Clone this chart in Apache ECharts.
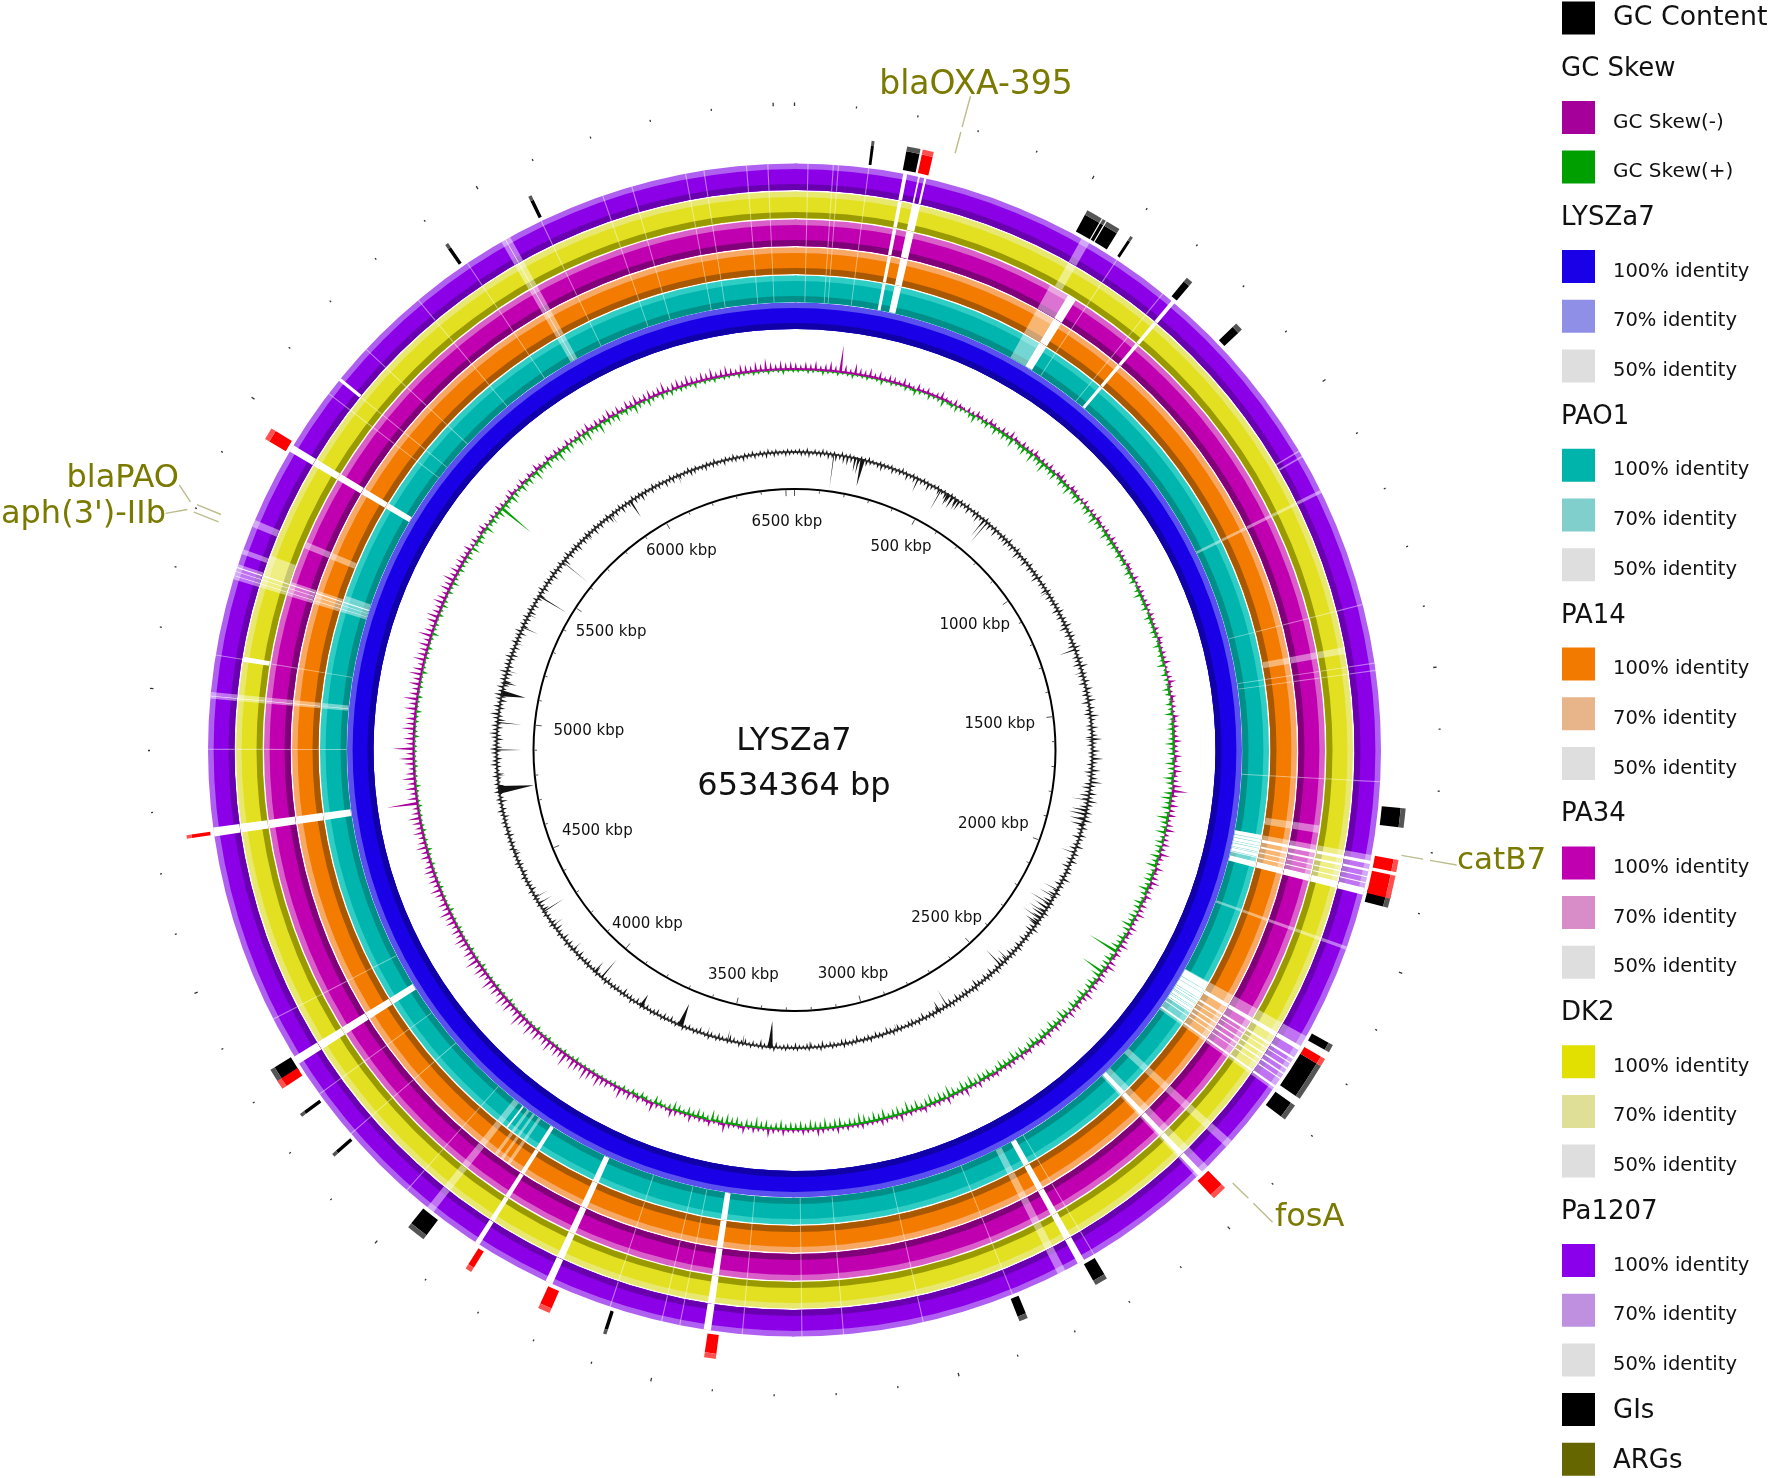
<!DOCTYPE html>
<html>
<head>
<meta charset="utf-8">
<title>LYSZa7</title>
<style>
    html, body { margin: 0; padding: 0; background: #fff; }
    #chart { width: 1772px; height: 1478px; }
</style>
<script src="https://cdn.jsdelivr.net/npm/echarts@6/dist/echarts.min.js"></script>
</head>
<body>
<div id="chart"></div>
<script>
var genomeKbp = 6534.364;
var tickLabelKbp = [500, 1000, 1500, 2000, 2500, 3000, 3500, 4000, 4500, 5000, 5500, 6000, 6500];

// GC skew spikes, px per 0.75 degree bin, one row is 30 degrees
var skewPos = [
    8,6,9,7,10,6,8,11,7,28,9,6,12,8,7,10,6,9,5,8,7,5,9,6,4,8,5,7,4,6,9,5,4,7,5,3,6,4,7,5,
    4,7,5,3,6,4,8,5,3,6,4,5,7,3,5,4,6,3,5,7,4,3,6,5,3,4,6,3,5,4,7,3,4,5,3,6,4,3,5,4,
    3,5,4,3,6,3,4,5,3,4,6,3,5,4,3,5,3,6,4,3,5,4,7,3,4,5,8,4,3,6,4,5,3,7,4,6,3,5,8,4,
    5,8,4,7,9,5,6,10,16,7,5,9,6,8,4,7,10,5,6,8,5,11,6,4,9,5,7,10,6,5,8,4,7,6,9,5,4,8,6,5,
    6,9,5,7,4,8,10,5,6,8,4,7,5,9,6,4,7,5,8,4,6,5,7,3,6,4,8,5,3,6,4,7,3,5,6,4,3,6,4,5,
    3,7,4,3,9,5,3,4,8,3,5,4,3,7,4,3,5,3,8,4,3,5,7,3,4,3,6,4,3,5,3,7,4,3,5,8,3,4,6,3,
    4,3,7,3,5,9,3,4,6,3,8,4,3,5,10,4,3,7,4,5,3,8,4,3,6,9,4,3,5,11,6,4,7,5,9,6,12,7,5,8,
    9,13,7,11,14,8,10,12,7,15,9,11,8,13,10,7,12,9,14,8,11,16,9,7,12,10,13,8,11,9,14,7,10,12,8,15,9,11,7,10,
    12,8,10,7,11,9,13,8,10,6,9,12,7,10,8,11,9,6,10,8,12,9,7,11,8,10,13,9,7,32,11,8,12,9,14,10,7,11,16,9,
    22,9,12,8,14,10,11,7,13,9,15,10,8,12,9,14,11,7,13,10,9,12,8,15,10,7,11,13,9,8,12,10,7,11,9,13,8,10,7,9,
    8,6,9,5,7,4,6,8,5,3,6,4,7,5,3,6,8,4,5,7,3,6,4,8,5,3,7,4,6,5,3,7,5,4,8,6,9,5,7,6,
    7,10,6,8,5,9,7,11,6,8,10,7,9,12,6,8,10,7,11,9,6,10,8,12,7,9,11,8,6,10,9,7,11,8,13,9,7,10,8,9
];
var skewNeg = [
    3,2,4,3,2,5,3,2,4,2,3,5,2,3,4,2,3,6,2,4,3,2,5,3,7,4,2,6,3,4,8,3,5,7,4,3,6,9,4,5,
    7,4,9,5,8,6,10,4,7,9,5,11,6,8,12,5,7,9,4,8,6,10,5,7,9,4,6,8,5,10,6,7,4,9,5,8,6,4,7,5,
    6,4,8,5,7,3,6,9,4,5,7,3,8,5,4,7,6,3,8,4,6,5,9,3,7,5,4,8,6,3,7,5,9,4,6,8,5,7,10,6,
    8,5,10,7,6,11,8,5,9,12,7,10,6,13,8,7,11,5,9,8,6,10,7,12,5,8,9,6,11,7,5,10,8,6,9,7,12,8,5,9,
    7,10,32,6,9,8,7,25,11,6,9,8,5,10,7,6,9,5,8,11,6,7,10,5,9,7,6,10,8,5,9,7,11,6,8,10,7,5,9,8,
    10,7,12,8,11,6,9,13,8,10,7,12,9,6,11,8,13,7,10,9,6,12,8,11,7,10,13,8,9,6,11,10,7,12,8,9,11,7,10,8,
    9,7,11,8,6,10,8,12,7,9,6,10,8,11,7,9,12,6,8,10,7,9,5,8,10,6,4,7,9,3,5,7,4,6,3,5,2,4,3,2,
    3,2,4,2,3,2,5,3,2,4,2,3,2,4,3,2,5,2,3,2,4,3,2,3,5,2,3,2,4,2,3,2,3,5,2,3,2,4,2,3,
    2,3,4,2,3,2,5,3,2,3,2,4,3,2,3,2,4,2,3,5,2,3,2,4,3,2,3,2,4,3,2,3,5,2,3,2,4,3,2,3,
    3,2,5,3,2,4,3,6,2,3,5,2,4,3,2,6,3,2,4,3,5,2,3,7,3,4,2,5,3,6,4,2,5,3,7,4,3,6,4,5,
    7,4,9,5,8,6,4,10,5,7,6,9,38,8,5,10,7,4,9,6,8,5,11,7,6,9,5,8,12,6,9,7,5,10,8,11,6,7,12,5,
    8,6,9,4,7,5,10,6,4,8,5,3,7,4,6,3,5,4,3,6,2,4,3,5,2,4,3,2,5,3,2,4,3,2,4,2,3,5,2,3
];

// GC content fringe, same bins
var gcHigh = [
    3,4,3,5,2,4,3,5,4,3,4,2,5,3,4,3,2,4,3,5,3,2,4,3,3,4,2,3,5,3,2,4,3,2,4,3,2,3,4,2,
    3,2,4,3,2,4,3,5,2,3,4,2,3,5,3,2,4,3,2,4,3,6,2,3,5,3,2,4,3,5,2,4,3,6,2,4,3,5,3,4,
    3,5,4,6,3,5,4,7,3,5,6,3,4,7,5,3,6,4,8,3,5,4,6,3,7,4,5,8,3,6,4,9,5,3,7,4,6,10,5,4,
    8,5,11,6,4,9,5,7,12,6,4,8,5,10,6,4,7,5,9,4,6,3,7,5,4,8,3,6,4,7,3,5,6,3,8,4,5,3,6,4,
    3,5,4,3,6,4,3,5,3,7,4,3,5,3,4,6,3,5,4,3,5,3,4,6,3,4,5,3,4,3,6,4,3,5,3,4,3,5,4,3,
    3,4,3,5,3,4,2,5,3,4,3,2,4,3,5,3,2,4,3,2,5,3,4,2,3,4,3,5,2,3,4,2,3,5,3,2,4,3,2,4,
    3,2,4,3,2,5,3,2,4,3,2,4,2,3,5,2,3,4,2,3,4,2,5,3,2,3,4,2,3,5,2,4,3,2,3,4,2,3,4,2,
    3,4,2,3,5,2,3,4,2,3,4,2,5,3,2,4,3,2,4,3,2,5,3,2,4,3,5,2,3,4,2,3,5,3,2,4,3,2,4,3,
    4,3,5,2,4,3,5,3,2,4,5,3,4,2,5,3,4,3,5,2,4,5,3,4,6,3,4,5,3,6,4,5,3,6,4,3,7,5,4,6,
    7,5,4,6,8,5,7,4,6,9,5,7,4,6,8,5,7,4,6,5,8,4,6,5,7,4,5,3,6,4,5,7,3,5,4,6,3,5,4,3,
    5,3,4,6,3,5,4,3,6,4,3,5,3,4,6,3,4,5,3,4,3,5,4,3,5,3,4,3,5,2,4,3,5,3,4,2,5,3,4,3,
    4,2,5,3,4,3,2,5,3,4,2,3,5,3,4,2,3,4,3,5,2,3,4,3,5,3,2,4,3,5,2,4,3,5,3,4,2,3,4,3
];
var gcLow = [
    3,5,4,6,3,4,5,3,6,4,7,5,8,9,6,4,5,3,6,4,3,5,7,4,3,6,4,5,3,7,4,6,3,5,4,8,5,3,6,4,
    7,9,6,8,10,5,4,7,3,6,8,4,9,5,7,4,8,3,6,5,7,4,6,3,8,5,4,7,3,6,4,5,8,3,5,4,7,3,6,4,
    5,3,7,4,6,3,5,8,4,6,3,5,7,4,3,6,5,8,4,3,6,4,7,3,5,6,4,8,3,5,7,4,3,6,5,3,7,4,6,3,
    5,4,3,6,4,8,5,3,7,9,6,10,7,5,8,6,4,7,3,5,6,4,8,3,5,7,4,3,6,5,8,4,3,6,4,7,3,5,8,4,
    9,7,11,8,13,10,7,9,6,8,5,4,7,3,6,4,5,7,3,6,8,4,5,3,7,4,6,3,5,8,4,3,6,5,4,7,3,6,4,5,
    3,6,4,5,3,7,4,3,6,5,3,4,6,3,5,7,3,4,6,3,5,4,3,7,4,3,5,6,3,4,5,3,7,4,3,6,5,3,4,6,
    3,5,4,3,6,3,5,4,7,3,5,3,6,4,3,5,7,3,4,6,3,5,4,3,6,4,3,5,3,7,4,3,6,4,5,3,6,4,3,5,
    4,3,6,3,5,4,7,3,5,4,3,6,4,5,3,7,4,3,6,5,3,7,4,5,3,6,4,7,3,5,8,4,6,3,5,4,7,5,6,4,
    5,3,6,4,5,3,4,6,3,5,4,3,6,4,3,5,3,6,4,5,3,4,6,3,5,3,7,4,3,5,6,3,4,7,3,5,4,6,3,5,
    6,4,7,5,3,6,4,8,5,3,6,4,7,5,9,4,6,8,5,7,4,6,3,5,7,4,6,3,5,4,7,3,6,4,5,3,7,4,6,3,
    5,7,4,6,3,5,4,7,3,6,4,5,8,3,6,4,5,7,3,6,4,5,3,7,4,6,3,5,8,4,6,3,7,4,5,3,6,4,7,5,
    3,6,4,5,3,7,4,6,3,5,4,3,6,5,3,4,6,3,5,4,3,6,3,4,5,3,6,4,3,5,3,4,6,3,5,4,3,5,4,3
];

// the long dips of the GC content track
var gcDipKbp = [138,214,225,240,445,534,563,581,599,717,731,1053,1276,1361,1597,1810,1846,1860,1879,1897,2000,2142,2169,2198,2214,2233,2260,2278,2441,2472,2708,2741,2904,3086,3213,3352,3449,3503,3576,3676,3739,3828,3902,3999,4030,4138,4247,4305,4338,4363,4538,4761,4810,4901,4997,5100,5137,5180,5282,5342,5391,5465,5610,5736,5845,5928,5972,6117,6262];
var gcDipDepth = [36,15,17,28,15,24,13,14,12,22,26,10,18,10,9,18,16,18,16,14,15,16,18,24,18,20,22,15,14,22,20,12,8,8,8,27,10,12,10,24,8,14,8,24,14,12,13,25,16,15,8,36,9,26,25,25,14,12,9,18,10,33,32,8,12,20,9,10,6];
var gcDipBase = [3,8,8,16,6,4,10,10,8,4,4,3,6,3,3,4,8,8,8,8,4,4,4,4,4,4,4,8,4,6,4,8,3,3,3,18,4,4,3,20,3,14,3,6,6,4,3,4,4,3,3,28,3,4,4,22,8,3,3,4,3,6,3,3,3,8,3,3,3];

// BLAST rings: white gaps (no hit), pale stretches (70% and lower) as start and end in kbp,
// thin low identity lines as a single position
var sharedGaps = [[194,201],[726,733],[1831,1837],[1846,1850],[1859,1861],[1870,1872],[1880,1893],[2184,2192],[2207,2211],[2218,2220],[2229,2232],[2240,2243],[2251,2253],[2267,2271],[2468,2478],[2730,2743],[3416,3429],[3710,3723],[3857,3866],[4314,4329],[4747,4763],[4996,4997],[5214,5215],[5222,5223],[5229,5231],[5456,5469],[5998,5999]];
var sharedPale = [[1156,1162],[1821,1880],[1989,1995],[2164,2276],[2392,2407],[2454,2482],[2768,2783],[3957,3971],[4992,5004],[5208,5236],[5990,6008]];
var sharedLines = [24,69,78,132,605,706,1373,1479,1492,1690,2710,2871,3037,3180,3254,3360,3472,3505,3600,4018,4159,4249,4405,4902,5070,5580,5611,5683,5810,5919,6070,6188,6242,6340,6373,6449,6487];
var pao1Gaps = [[221,236],[563,581],[1821,1830],[1838,1845],[1851,1858],[1862,1869],[2166,2183],[2193,2206],[2212,2217],[2221,2228],[2233,2239],[3942,3946]];
var pao1Pale = [[523,563],[3893,3900],[3910,3916],[3925,3932],[5236,5245]];
var pa14Gaps = [[221,236],[563,581]];
var pa14Pale = [[523,563],[1441,1454],[1782,1797],[3893,3900],[3910,3916],[3925,3932],[5307,5320]];
var pa34Gaps = [[221,236],[563,581]];
var pa34Pale = [[523,563],[1441,1454],[1782,1797],[5307,5320]];
var dk2Gaps = [[221,236],[5066,5075]];
var dk2Pale = [[532,548],[1441,1454],[5236,5270]];
var pa1207Gaps = [[221,224],[232,236],[5609,5615]];
var pa1207Pale = [[532,548],[1076,1079],[1087,1090],[5255,5264],[5307,5320]];

var giRanges = [[131,136],[192,215],[517,545],[547,553],[555,580],[602,607],[721,733],[835,849],[1733,1766],[1879,1904],[2155,2169],[2196,2262],[2276,2305],[2712,2734],[2862,2877],[3591,3597],[3942,3975],[4148,4154],[4235,4241],[4302,4331],[5905,5911],[6068,6074]];
var argRanges = [[219,238],[1821,1842],[1848,1888],[2182,2196],[2459,2485],[3401,3421],[3694,3715],[3844,3855],[4293,4309],[4750,4756],[5453,5474]];

var legendNames = ['GC Content','GC Skew','GC Skew(-)','GC Skew(+)','LYSZa7','100% identity','70% identity','50% identity','PAO1','100% identity','70% identity','50% identity','PA14','100% identity','70% identity','50% identity','PA34','100% identity','70% identity','50% identity','DK2','100% identity','70% identity','50% identity','Pa1207','100% identity','70% identity','50% identity','GIs','ARGs'];
var legendColors = ['#000000',null,'#a5009a','#009f00',null,'#1a00e6','#8f8fe8','#dedede',null,'#00b3ab','#80cfcc','#dedede',null,'#f27a00','#e8b48a','#dedede',null,'#c000b0','#d88cc8','#dedede',null,'#e2e000','#e0df98','#dedede',null,'#8a00ea','#bf8fe0','#dedede','#000000','#666600'];

var CX = 794.5, CY = 750, MAX_R = 700;
var ringWidth = 26.5;
var FONT = '"DejaVu Sans", sans-serif';
var binKbp = genomeKbp / 480;
var OLIVE = '#7a7a00';

function edgeAngle(api, cs, kbp) {
    var p = api.coord([100, kbp]);
    return Math.atan2(p[1] - cs.cy, p[0] - cs.cx);
}

function radiusPx(api, cs, r) {
    var p = api.coord([r, 0]);
    return Math.sqrt((p[0] - cs.cx) * (p[0] - cs.cx) + (p[1] - cs.cy) * (p[1] - cs.cy));
}

// rows: [kbpStart, kbpEnd, rInner, rOuter]
function arcSeries(rows, fill, opacity) {
    return {
        type: 'custom',
        coordinateSystem: 'polar',
        silent: true,
        animation: false,
        data: rows,
        renderItem: function(params, api) {
            var cs = params.coordSys;
            return {
                type: 'sector',
                shape: {
                    cx: cs.cx,
                    cy: cs.cy,
                    r0: radiusPx(api, cs, api.value(2)),
                    r: radiusPx(api, cs, api.value(3)),
                    startAngle: edgeAngle(api, cs, api.value(0)),
                    endAngle: edgeAngle(api, cs, api.value(1)),
                    clockwise: true
                },
                style: { fill: fill, opacity: opacity === undefined ? 1 : opacity }
            };
        }
    };
}

// rows: [kbp, halfWidthKbp, rBase, rTip]
function spikeSeries(rows, fill) {
    return {
        type: 'custom',
        coordinateSystem: 'polar',
        silent: true,
        animation: false,
        data: rows,
        renderItem: function(params, api) {
            var k = api.value(0), w = api.value(1);
            return {
                type: 'polygon',
                shape: { points: [api.coord([api.value(2), k - w]), api.coord([api.value(2), k + w]), api.coord([api.value(3), k])] },
                style: { fill: fill }
            };
        }
    };
}

// rows: [kbp0, r0, kbp1, r1]
function lineSeries(rows, stroke, width) {
    return {
        type: 'custom',
        coordinateSystem: 'polar',
        silent: true,
        animation: false,
        data: rows,
        renderItem: function(params, api) {
            var a = api.coord([api.value(1), api.value(0)]);
            var b = api.coord([api.value(3), api.value(2)]);
            return {
                type: 'line',
                shape: { x1: a[0], y1: a[1], x2: b[0], y2: b[1] },
                style: { stroke: stroke, lineWidth: width, fill: null }
            };
        }
    };
}

function fullCircle(r0, r1) {
    return [[0, genomeKbp / 2 + 5, r0, r1], [genomeKbp / 2, genomeKbp + 5, r0, r1]];
}

function withRadius(ranges, r0, r1) {
    return ranges.map(function(d) {
        return [d[0], d[1], r0, r1];
    });
}

function ringSeries(r0, dark, mid, light, gaps, pale) {
    var r1 = r0 + ringWidth;
    var list = [
        arcSeries(fullCircle(r0, r1), light),
        arcSeries(fullCircle(r0, r1 - 5.6), mid),
        arcSeries(fullCircle(r0, r0 + 6), dark)
    ];
    if (gaps) {
        var thin = sharedLines.map(function(k) {
            return [k - 1, k + 1, r0, r1];
        });
        list.push(arcSeries(thin, '#ffffff', 0.45));
        list.push(arcSeries(withRadius(sharedPale.concat(pale), r0, r1), '#ffffff', 0.45));
        list.push(arcSeries(withRadius(sharedGaps.concat(gaps), r0, r1), '#ffffff', 1));
    }
    return list;
}

// pos and neg spikes sit a quarter bin to either side of the bin middle
function binRows(values, base, sign, shift) {
    return values.map(function(v, i) {
        return [(i + shift) * binKbp, binKbp * 0.3, base, base + sign * v];
    });
}

// thin colour band along the skew baseline, thicker on the side that is larger in that bin
function skewBand(values, other, base, sign) {
    var rows = [];
    values.forEach(function(v, i) {
        var h = v > other[i] ? 2 : 0.6;
        var r0 = sign > 0 ? base : base - h;
        rows.push([i * binKbp, (i + 1) * binKbp, r0, r0 + h]);
    });
    return rows;
}

function tickRows(r0, r1, r0Long, r1Long) {
    var rows = [];
    for (var k = 0; k < 6534; k += 100) {
        var isLong = k % 500 === 0;
        rows.push([k, isLong ? r0Long : r0, k, isLong ? r1Long : r1]);
    }
    return rows;
}

var series = [];
series = series.concat(ringSeries(421, '#1000a8', '#1a00e6', '#5a50ee'));
series = series.concat(ringSeries(448, '#008f88', '#00b5ad', '#30cdc5', pao1Gaps, pao1Pale));
series = series.concat(ringSeries(476, '#a85800', '#f27b00', '#f7a865', pa14Gaps, pa14Pale));
series = series.concat(ringSeries(504, '#80007a', '#c000b0', '#d860c8', pa34Gaps, pa34Pale));
series = series.concat(ringSeries(532, '#999900', '#e2e020', '#e8e870', dk2Gaps, dk2Pale));
series = series.concat(ringSeries(560, '#6800b0', '#8c00e8', '#b060f0', pa1207Gaps, pa1207Pale));

// GIs and ARGs outside the rings
series.push(arcSeries(withRadius(giRanges, 590, 609), '#000000'));
series.push(arcSeries(withRadius(giRanges, 609, 614), '#555555'));
series.push(arcSeries(withRadius(argRanges, 590, 609), '#ff0000'));
series.push(arcSeries(withRadius(argRanges, 609, 614), '#ff5050'));

// GC skew and GC content
series.push(arcSeries(skewBand(skewNeg, skewPos, 380, -1), '#00a000'));
series.push(arcSeries(skewBand(skewPos, skewNeg, 380, 1), '#a5009a'));
series.push(spikeSeries(binRows(skewNeg, 380, -1, 0.75), '#00a000'));
series.push(spikeSeries(binRows(skewPos, 380, 1, 0.25), '#a5009a'));
series.push(spikeSeries(binRows(gcHigh, 298, 1, 0.25), '#111111'));
series.push(spikeSeries(binRows(gcLow, 298, -1, 0.75), '#111111'));
series.push(spikeSeries(gcDipKbp.map(function(k, i) {
    return [k, gcDipBase[i] / 2, 299, 299 - gcDipDepth[i]];
}), '#111111'));
series.push(arcSeries(fullCircle(297, 299), '#222222', 0.8));

// backbone circle, ticks
series.push(arcSeries(fullCircle(260, 262), '#000000'));
series.push(lineSeries(tickRows(257.5, 260, 254, 260), '#555555', 1));
series.push(lineSeries(tickRows(644.5, 646.5, 644, 647.5), '#333333', 1.3));

// leader lines to the gene names
series.push(lineSeries([
    [273.4, 618, 273.4, 640], [273.4, 645, 273.4, 677],
    [1812.4, 616, 1812.4, 638], [1812.4, 645, 1812.4, 672],
    [2444, 616, 2444, 638], [2444, 645, 2444, 672],
    [5306, 620, 5306, 646], [5293, 619.5, 5293, 646],
    [5306, 653, 5324, 670], [5293, 653, 5275, 672]
], '#bcbc8c', 1.4));

// tick labels, they sit on a rounded box inside the backbone circle
series.push({
    type: 'custom',
    coordinateSystem: 'polar',
    silent: true,
    animation: false,
    data: tickLabelKbp.map(function(k) { return [k]; }),
    renderItem: function(params, api) {
        var cs = params.coordSys;
        var k = api.value(0);
        var a = edgeAngle(api, cs, k);
        var ra = 206, rb = 229, n = 2.25;
        var r = 1 / Math.pow(Math.pow(Math.abs(Math.cos(a)) / ra, n) + Math.pow(Math.abs(Math.sin(a)) / rb, n), 1 / n);
        var p = api.coord([r, k]);
        return {
            type: 'text',
            x: p[0],
            y: p[1] + 1,
            style: { text: k + ' kbp', font: '15px ' + FONT, fill: '#111', textAlign: 'center', textVerticalAlign: 'middle' }
        };
    }
});

function textEl(x, y, text, size, fill, align) {
    return { type: 'text', style: { x: x, y: y, text: text, font: size + 'px ' + FONT, fill: fill, textAlign: align, textVerticalAlign: 'middle' } };
}

var graphics = [
    textEl(794, 742, 'LYSZa7', 32, '#111', 'center'),
    textEl(794, 787, '6534364 bp', 32, '#111', 'center'),
    textEl(976, 85, 'blaOXA-395', 33, OLIVE, 'center'),
    textEl(179, 479, 'blaPAO', 32, OLIVE, 'right'),
    textEl(166, 515, "aph(3')-IIb", 32, OLIVE, 'right'),
    textEl(1457, 861, 'catB7', 31, OLIVE, 'left'),
    textEl(1275, 1218, 'fosA', 32, OLIVE, 'left')
];

// legend column
legendNames.forEach(function(name, i) {
    var y = 18 + i * 49.7;
    var color = legendColors[i];
    var big = color === null || i === 0 || i >= 28;
    if (color !== null) {
        graphics.push({ type: 'rect', shape: { x: 1562, y: y - 16.5, width: 33, height: 33 }, style: { fill: color } });
    }
    var textY = y + (i === 0 ? 0 : (big ? 1.5 : 5));
    var size = i === 0 ? 26.8 : (big ? 26 : (name.indexOf('GC') === 0 ? 20 : 19.5));
    graphics.push(textEl(color === null ? 1561 : 1613, textY, name, size, '#111', 'left'));
});

var myChart = echarts.init(document.getElementById('chart'), null, { renderer: 'canvas' });
myChart.setOption({
    backgroundColor: '#ffffff',
    animation: false,
    polar: { center: [CX, CY], radius: MAX_R },
    angleAxis: { type: 'value', min: 0, max: genomeKbp, startAngle: 90, clockwise: true, show: false },
    radiusAxis: { type: 'value', min: 0, max: MAX_R, show: false },
    tooltip: { show: false },
    series: series,
    graphic: graphics
});
</script>
</body>
</html>
